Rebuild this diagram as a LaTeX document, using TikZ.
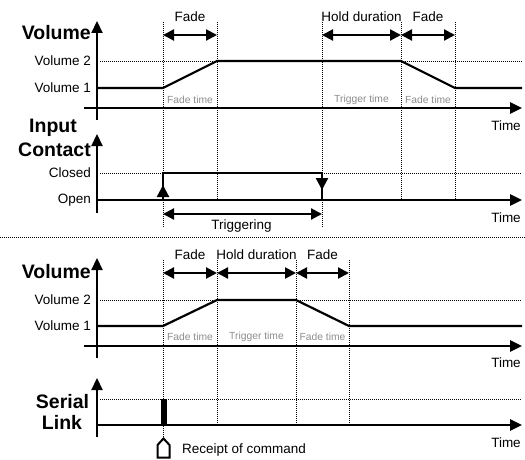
\documentclass[tikz,border=0pt]{standalone}
\usepackage{fontspec}
\setmainfont{Liberation Sans}
\usetikzlibrary{arrows.meta}
\begin{document}
\begin{tikzpicture}[x=1pt,y=-1pt,
  axis/.style={line width=2.6pt,-{Triangle[length=12pt,width=11pt]}},
  vax/.style={line width=2.2pt,-{Triangle[length=12pt,width=11pt]}},
  sig/.style={line width=2.2pt},
  dotl/.style={line width=0.9pt,dash pattern=on 1pt off 1pt},
  dimarr/.style={line width=2.2pt,{Triangle[length=11pt,width=11pt]}-{Triangle[length=11pt,width=11pt]}},
  edgetip/.style={line width=2.2pt,-{Triangle[length=12pt,width=12pt]}},
  lvl/.style={anchor=east,inner sep=0pt,font=\fontsize{13.5}{15}\selectfont},
  big/.style={inner sep=0pt,font=\fontsize{19.5}{22}\selectfont\bfseries},
  lab/.style={inner sep=0pt,font=\fontsize{13.5}{15}\selectfont},
  gt/.style={inner sep=0pt,text=black!45,font=\fontsize{10.3}{12}\selectfont},
]
\useasboundingbox (0,0) rectangle (525,460);

% ---------- Panel 1: Volume (input contact) ----------
\draw[dotl] (163,22) -- (163,227);
\draw[dotl] (217,22) -- (217,200);
\draw[dotl] (322,22) -- (322,227);
\draw[dotl] (401,22) -- (401,200);
\draw[dotl] (455,22) -- (455,200);
\draw[dotl] (100,61) -- (217,61);
\draw[dotl] (401,61) -- (522,61);

\coordinate (v1b) at (97,120); \coordinate (v1t) at (97,21);
\coordinate (t1l) at (84,108); \coordinate (t1r) at (522,108);
\draw[vax] (v1b) -- (v1t);
\draw[axis] (t1l) -- (t1r);
\draw[sig] (98,88) -- (163,88) -- (217,61) -- (401,61) -- (455,88) -- (522,88);

\node[big,anchor=east] (vol1) at (91,33) {Volume};
\node[lvl] (v2a) at (91,61) {Volume 2};
\node[lvl] (v1a) at (91,88) {Volume 1};
\node[lab] (tm1) at (506,126) {Time};

\coordinate (fa1) at (163,35); \coordinate (fb1) at (217,35);
\coordinate (ha1) at (322,35); \coordinate (hb1) at (401,35);
\coordinate (fc1) at (455,35);
\draw[dimarr] (fa1) -- (fb1);
\draw[dimarr] (ha1) -- (hb1);
\draw[dimarr] (hb1) -- (fc1);
\node[lab] (fade1) at (190,17) {Fade};
\node[lab] (hold1) at (361.5,17) {Hold duration};
\node[lab] (fade2) at (428,17) {Fade};
\node[gt] (ft1) at (190,100) {Fade time};
\node[gt] (tt1) at (361.5,100) {Trigger time};
\node[gt] (ft2) at (428,100) {Fade time};

% ---------- Panel 2: Input Contact ----------
\draw[dotl] (100,173) -- (163,173);
\draw[dotl] (322,173) -- (522,173);
\coordinate (c2b) at (97,213); \coordinate (c2t) at (97,134);
\coordinate (t2l) at (97,200); \coordinate (t2r) at (522,200);
\draw[vax] (c2b) -- (c2t);
\draw[axis] (t2l) -- (t2r);
\draw[sig] (163,200) -- (163,173) -- (322,173) -- (322,200);
\draw[edgetip] (163,199) -- (163,185);
\draw[edgetip] (322,176) -- (322,190);

\node[big] (inp) at (53,128) {Input};
\node[big] (cont) at (54.5,150) {Contact};
\node[lvl] (cl) at (91,173) {Closed};
\node[lvl] (op) at (91,200) {Open};
\node[lab] (tm2) at (506,218) {Time};

\coordinate (tra) at (163,214); \coordinate (trb) at (322,214);
\draw[dimarr] (tra) -- (trb);
\node[lab] (trig) at (241.5,226) {Triggering};

% ---------- separator ----------
\draw[dotl] (0,237) -- (525,237);

% ---------- Panel 3: Volume (serial) ----------
\draw[dotl] (163,260) -- (163,438);
\draw[dotl] (217,260) -- (217,425);
\draw[dotl] (296,260) -- (296,425);
\draw[dotl] (349,260) -- (349,425);
\draw[dotl] (100,300) -- (217,300);
\draw[dotl] (296,300) -- (522,300);

\coordinate (v3b) at (97,358); \coordinate (v3t) at (97,258);
\coordinate (t3l) at (84,346); \coordinate (t3r) at (522,346);
\draw[vax] (v3b) -- (v3t);
\draw[axis] (t3l) -- (t3r);
\draw[sig] (98,326) -- (163,326) -- (217,300) -- (296,300) -- (349,326) -- (522,326);

\node[big,anchor=east] (vol3) at (91,272) {Volume};
\node[lvl] (v2c) at (91,300) {Volume 2};
\node[lvl] (v1c) at (91,326) {Volume 1};
\node[lab] (tm3) at (506,363) {Time};

\coordinate (fa3) at (163,273); \coordinate (fb3) at (217,273);
\coordinate (hb3) at (296,273); \coordinate (fc3) at (349,273);
\draw[dimarr] (fa3) -- (fb3);
\draw[dimarr] (fb3) -- (hb3);
\draw[dimarr] (hb3) -- (fc3);
\node[lab] (fade3) at (190,255) {Fade};
\node[lab] (hold3) at (256.5,255) {Hold duration};
\node[lab] (fade4) at (322.5,255) {Fade};
\node[gt] (ft3) at (190,337) {Fade time};
\node[gt] (tt3) at (256.5,337) {Trigger time};
\node[gt] (ft4) at (322.5,337) {Fade time};

% ---------- Panel 4: Serial Link ----------
\draw[dotl] (100,399) -- (522,399);
\coordinate (s4b) at (97,437); \coordinate (s4t) at (97,378);
\coordinate (t4l) at (97,425); \coordinate (t4r) at (522,425);
\draw[vax] (s4b) -- (s4t);
\draw[axis] (t4l) -- (t4r);
\fill (161,399) rectangle (167,425);

\node[big] (ser) at (62.5,402) {Serial};
\node[big] (lnk) at (62,422) {Link};
\node[lab] (tm4) at (506,443) {Time};

\draw[line width=2pt,fill=white] (157.5,457.5) -- (157.5,445) -- (163.5,438.5) -- (169.5,445) -- (169.5,457.5) -- cycle;
\node[lab,anchor=west] (rec) at (182,450) {Receipt of command};
\end{tikzpicture}
\end{document}
